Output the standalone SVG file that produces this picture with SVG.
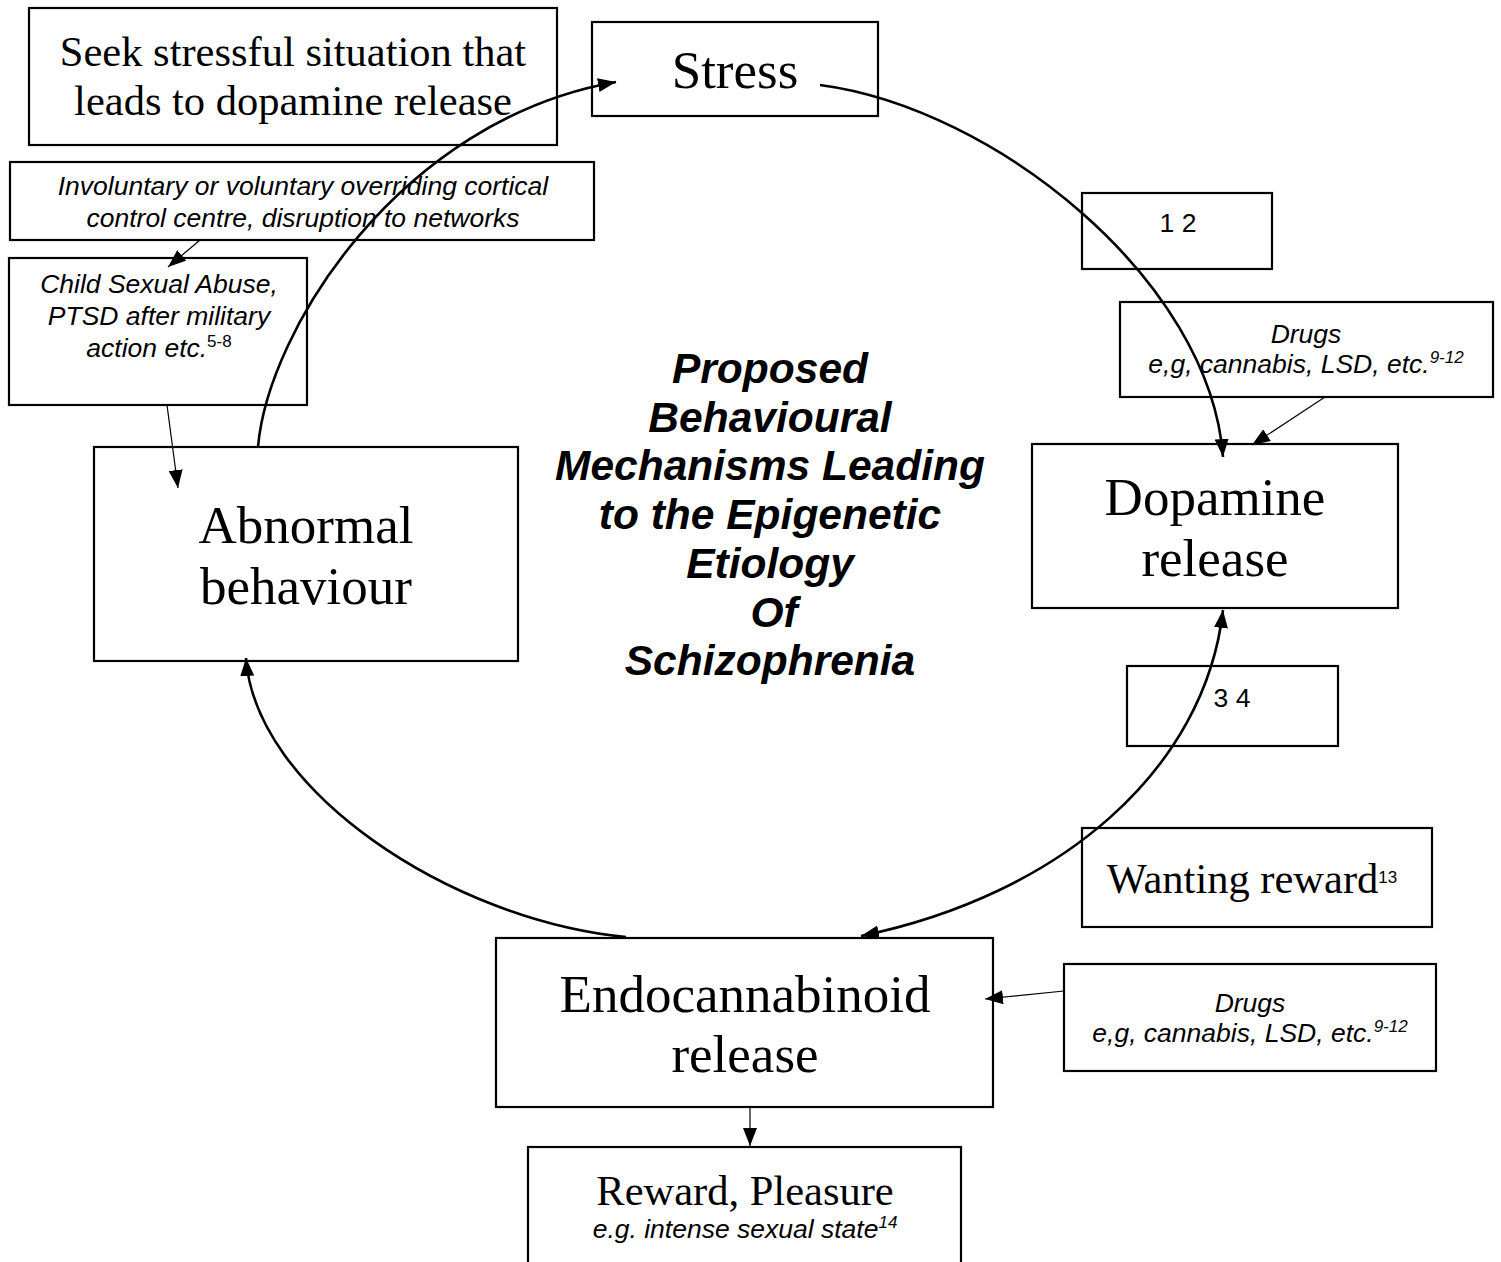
<svg xmlns="http://www.w3.org/2000/svg" width="1501" height="1262" viewBox="0 0 1501 1262">
<style>
.box{fill:#fff;stroke:#000;stroke-width:2.2}
.serif{font-family:"Liberation Serif","Times New Roman",serif;fill:#000;text-anchor:middle}
.sans{font-family:"Liberation Sans",Arial,sans-serif;fill:#000;text-anchor:middle}
.it{font-style:italic}
.big{font-size:53px}
.mid{font-size:42.5px}
.small{font-size:26.5px}
.sup{font-size:17px}
.title{font-family:"Liberation Sans",Arial,sans-serif;font-weight:bold;font-style:italic;font-size:42.5px;text-anchor:middle;fill:#000}
.curve{fill:none;stroke:#000;stroke-width:2.6}
.thin{fill:none;stroke:#000;stroke-width:1.2}
</style>
<defs>
<marker id="ah" markerUnits="userSpaceOnUse" markerWidth="18" markerHeight="14" viewBox="0 0 18 14" refX="18" refY="7" orient="auto-start-reverse">
<path d="M0,0 L18,7 L0,14 z" fill="#000"/>
</marker>
</defs>

<g id="node-seek">
<rect class="box" x="29" y="8" width="528" height="137"/>
<text class="serif mid" x="293" y="66">Seek stressful situation that</text>
<text class="serif mid" x="293" y="115">leads to dopamine release</text>
</g>

<g id="node-stress">
<rect class="box" x="592" y="22" width="286" height="94"/>
<text class="serif big" x="735" y="88">Stress</text>
</g>

<g id="node-involuntary">
<rect class="box" x="10" y="162" width="584" height="78"/>
<text class="sans it small" x="303" y="195">Involuntary or voluntary overriding cortical</text>
<text class="sans it small" x="303" y="227">control centre, disruption to networks</text>
</g>

<g id="node-child">
<rect class="box" x="9" y="258" width="298" height="147"/>
<text class="sans it small" x="159" y="293">Child Sexual Abuse,</text>
<text class="sans it small" x="159" y="325">PTSD after military</text>
<text class="sans it small" x="159" y="357">action etc.<tspan class="sup" font-style="normal" dy="-10">5-8</tspan></text>
</g>

<g id="node-ref12">
<rect class="box" x="1082" y="193" width="190" height="76"/>
<text class="sans small" x="1178" y="232">1 2</text>
</g>

<g id="node-drugs1">
<rect class="box" x="1120" y="302" width="373" height="95"/>
<text class="sans it small" x="1306" y="343">Drugs</text>
<text class="sans it small" x="1306" y="373">e,g, cannabis, LSD, etc.<tspan class="sup" dy="-10">9-12</tspan></text>
</g>

<g id="node-abnormal">
<rect class="box" x="94" y="447" width="424" height="214"/>
<text class="serif big" x="306" y="543">Abnormal</text>
<text class="serif big" x="306" y="604">behaviour</text>
</g>

<g id="node-dopamine">
<rect class="box" x="1032" y="444" width="366" height="164"/>
<text class="serif big" x="1215" y="515">Dopamine</text>
<text class="serif big" x="1215" y="576">release</text>
</g>

<g id="title">
<text class="title" x="770" y="383">Proposed</text>
<text class="title" x="770" y="432">Behavioural</text>
<text class="title" x="770" y="480">Mechanisms Leading</text>
<text class="title" x="770" y="529">to the Epigenetic</text>
<text class="title" x="770" y="578">Etiology</text>
<text class="title" x="774" y="627">Of</text>
<text class="title" x="770" y="675">Schizophrenia</text>
</g>

<g id="node-ref34">
<rect class="box" x="1127" y="666" width="211" height="80"/>
<text class="sans small" x="1232" y="707">3 4</text>
</g>

<g id="node-wanting">
<rect class="box" x="1082" y="828" width="350" height="99"/>
<text class="serif mid" x="1252" y="893">Wanting reward<tspan class="sans sup" dy="-10">13</tspan></text>
</g>

<g id="node-endo">
<rect class="box" x="496" y="938" width="497" height="169"/>
<text class="serif big" x="745" y="1012">Endocannabinoid</text>
<text class="serif big" x="745" y="1072">release</text>
</g>

<g id="node-drugs2">
<rect class="box" x="1064" y="964" width="372" height="107"/>
<text class="sans it small" x="1250" y="1012">Drugs</text>
<text class="sans it small" x="1250" y="1042">e,g, cannabis, LSD, etc.<tspan class="sup" dy="-10">9-12</tspan></text>
</g>

<g id="node-reward">
<rect class="box" x="528" y="1147" width="433" height="130"/>
<text class="serif mid" x="745" y="1205">Reward, Pleasure</text>
<text class="sans it small" x="745" y="1238">e.g. intense sexual state<tspan class="sup" dy="-10">14</tspan></text>
</g>

<g id="connectors">
<path class="curve" d="M258,447 C268,330 400,120 616,82" marker-end="url(#ah)"/>
<path class="curve" d="M820,85 C995,108 1210,280 1223,457" marker-end="url(#ah)"/>
<path class="curve" d="M861,936 C1060,895 1205,770 1223,610" marker-start="url(#ah)" marker-end="url(#ah)"/>
<path class="curve" d="M626,937 C450,920 255,790 246,658" marker-end="url(#ah)"/>
<path class="thin" d="M200,240 L168,267" marker-end="url(#ah)"/>
<path class="thin" d="M167,405 L178,488" marker-end="url(#ah)"/>
<path class="thin" d="M1325,397 L1252,445" marker-end="url(#ah)"/>
<path class="thin" d="M1064,991 L985,999" marker-end="url(#ah)"/>
<path class="thin" d="M750,1107 L750,1146" marker-end="url(#ah)"/>
</g>
</svg>
